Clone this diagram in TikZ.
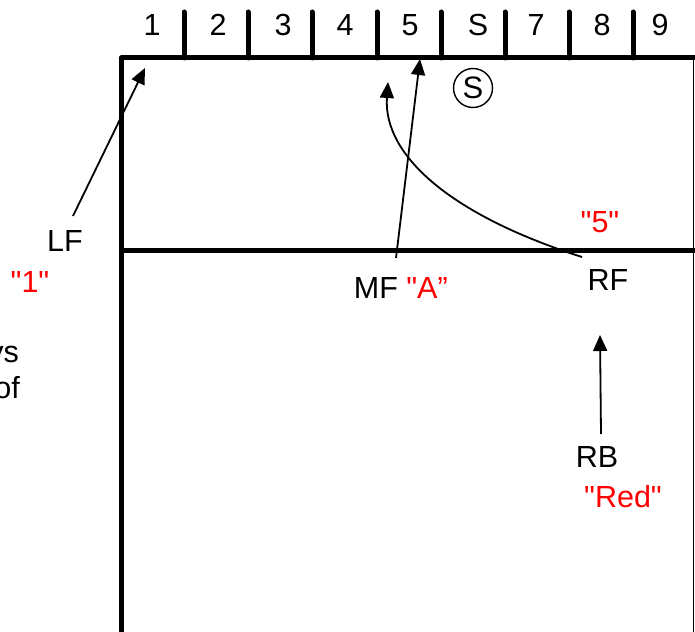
\documentclass[tikz,border=0pt]{standalone}
\usepackage{fontspec}
\setmainfont{Liberation Sans}[Ligatures=TeXOff]
\usetikzlibrary{arrows.meta}
\definecolor{lblred}{RGB}{255,0,0}
\begin{document}
\begin{tikzpicture}[x=1pt,y=-1pt,
  lbl/.style={anchor=base,inner sep=0pt,font=\fontsize{30.5}{34}\selectfont},
  redlbl/.style={lbl,text=lblred},
  border/.style={line width=5pt,line join=round},
  tick/.style={line width=5pt,line cap=round},
  arr/.style={line width=1.8pt,-{Triangle[length=16pt,width=14pt]}}]
\useasboundingbox (0,0) rectangle (695,631);
% court lines
\draw[border] (121,640) -- (121,58) -- (700,58);
\draw[border] (121,250) -- (700,250);
\draw[line width=1.5pt] (693.5,58) -- (693.5,640);
% ticks
\foreach \x in {184,248,312,377,441,505,569,633}
  \draw[tick] (\x,12) -- (\x,58);
% zone numbers
\node[lbl] (n1) at (152,36) {1};
\node[lbl] (n2) at (218,36) {2};
\node[lbl] (n3) at (283,36) {3};
\node[lbl] (n4) at (345,36) {4};
\node[lbl] (n5) at (410,36) {5};
\node[lbl] (nS) at (478,36) {S};
\node[lbl] (n7) at (536,36) {7};
\node[lbl] (n8) at (602,36) {8};
\node[lbl] (n9) at (660,36) {9};
% circled S
\node[draw,circle,line width=1.4pt,minimum size=39pt,inner sep=0pt,font=\fontsize{31}{34}\selectfont] (cs) at (473,88) {S};
% labels
\node[lbl] (lf) at (65,251) {LF};
\node[redlbl] (lf1) at (30,292) {"1"};
\node[lbl] (mf) at (376,298) {MF};
\node[redlbl] (mfa) at (427,298) {"A”};
\node[lbl] (rf) at (608,290) {RF};
\node[redlbl] (rf5) at (600,232) {"5"};
\node[lbl] (rb) at (597,467) {RB};
\node[redlbl] (rbred) at (623,507) {"Red"};
\node[lbl,anchor=base east] (ys) at (19,362) {ys};
\node[lbl,anchor=base east] (of) at (20,398) {of};
% arrow endpoints
\coordinate (lfs) at (73,216);
\coordinate (lft) at (145,68);
\coordinate (mfs) at (396,258);
\coordinate (mft) at (420,59);
\coordinate (rfs) at (582,257);
\coordinate (rft) at (388,82);
\coordinate (rbs) at (601,434);
\coordinate (rbt) at (600,335);
% arrows
\draw[arr] (lfs) -- (lft);
\draw[arr] (mfs) -- (mft);
\draw[arr] (rfs) .. controls (450,215) and (383,155) .. (rft);
\draw[arr] (rbs) -- (rbt);
\end{tikzpicture}
\end{document}
